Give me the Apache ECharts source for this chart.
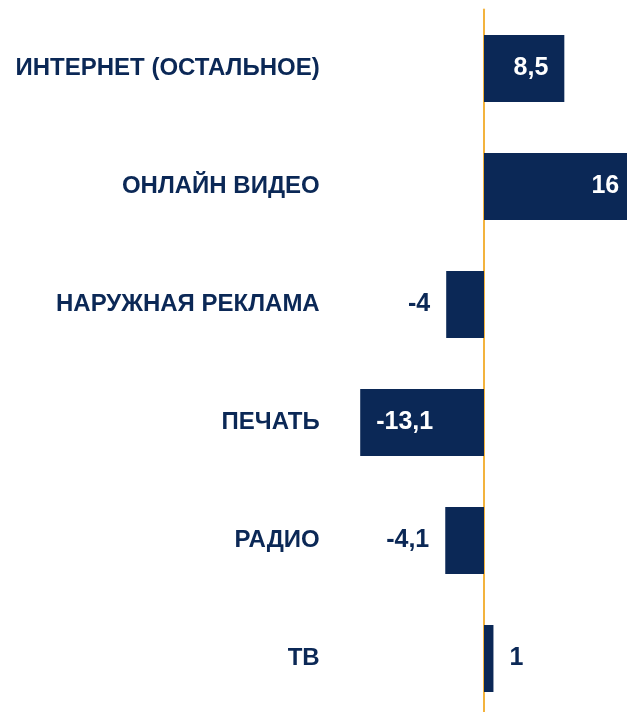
<!DOCTYPE html>
<html>
<head>
<meta charset="utf-8">
<script src="https://cdn.jsdelivr.net/npm/echarts@6/dist/echarts.min.js"></script>
<style>
  html, body { margin: 0; padding: 0; background: #fff; }
  #main { width: 627px; height: 712px; }
</style>
</head>
<body>
<div id="main"></div>
<script>
var categories = ['ИНТЕРНЕТ (ОСТАЛЬНОЕ)', 'ОНЛАЙН ВИДЕО', 'НАРУЖНАЯ РЕКЛАМА', 'ПЕЧАТЬ', 'РАДИО', 'ТВ'];
var values = [8.5, 16, -4, -13.1, -4.1, 1];

var navy = '#0b2856';

var chart = echarts.init(document.getElementById('main'));

// big bars get their label inside, small ones outside
var seriesData = values.map(function (v) {
    var big = Math.abs(v) > 5;
    var pos;
    if (v >= 0) pos = big ? 'insideRight' : 'right';
    else pos = big ? 'insideLeft' : 'left';
    return {
        value: v,
        label: {
            position: pos,
            color: big ? '#ffffff' : navy
        }
    };
});

var option = {
    backgroundColor: '#ffffff',
    animation: false,
    grid: {
        left: 351.7,
        right: -8.2,
        top: 9.5,
        bottom: -5.5,
        containLabel: false,
        outerBoundsMode: 'none'
    },
    xAxis: {
        type: 'value',
        min: -14,
        max: 16,
        axisLine: { show: false },
        axisTick: { show: false },
        axisLabel: { show: false },
        splitLine: { show: false }
    },
    yAxis: {
        type: 'category',
        inverse: true,
        data: categories,
        axisTick: { show: false },
        axisLine: {
            onZero: true,
            lineStyle: { color: '#f3b33d', width: 2 }
        },
        axisLabel: {
            margin: 32,
            color: navy,
            fontSize: 24,
            fontWeight: 'bold',
            fontFamily: 'Arial, "Liberation Sans", sans-serif',
            padding: [3, 0, 0, 0]
        }
    },
    series: [{
        type: 'bar',
        barWidth: 67,
        itemStyle: { color: navy },
        label: {
            show: true,
            distance: 16,
            fontSize: 25,
            fontWeight: 'bold',
            fontFamily: 'Arial, "Liberation Sans", sans-serif',
            formatter: function (p) {
                return String(p.value).replace('.', ',');
            }
        },
        data: seriesData
    }]
};

chart.setOption(option);
</script>
</body>
</html>
